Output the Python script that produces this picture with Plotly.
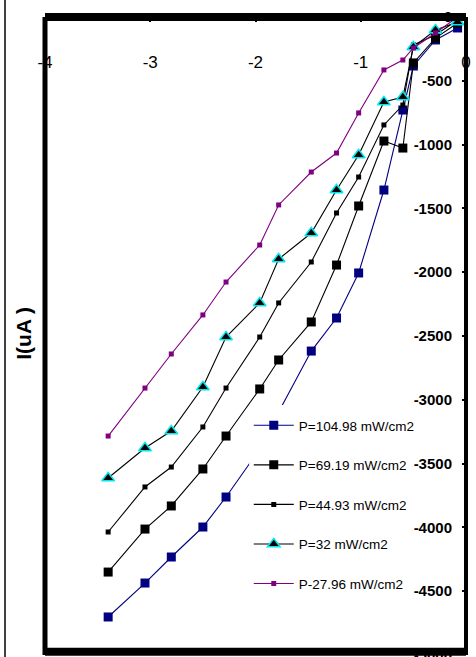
import plotly.graph_objects as go

# Data
voltage = [-3.4, -3.05, -2.8, -2.5, -2.28, -1.96, -1.78, -1.47, -1.23, -1.02, -0.78, -0.6, -0.5, -0.29, -0.08]
series_names = ["P=104.98 mW/cm2", "P=69.19 mW/cm2", "P=44.93 mW/cm2", "P=32 mW/cm2", "P-27.96 mW/cm2"]
i_104 = [-4702, -4436, -4232, -3997, -3762, -3386, -3096, -2618, -2359, -2006, -1356, -729, -384, -180, -86]
i_69 = [-4350, -4013, -3832, -3542, -3284, -2915, -2688, -2390, -1944, -1481, -972, -1027, -360, -165, -47]
i_45 = [-4036, -3683, -3527, -3213, -2908, -2508, -2241, -1920, -1536, -1254, -846, -690, -219, -141, -24]
i_32 = [-3613, -3378, -3245, -2900, -2508, -2241, -1897, -1693, -1356, -1082, -666, -627, -235, -102, -39]
i_28 = [-3284, -2908, -2641, -2335, -2077, -1787, -1473, -1215, -1066, -752, -415, -337, -243, -125, 0]

x_ticks = [-4, -3, -2, -1, 0]
x_ticktext = ["-4", "-3", "-2", "-1", "0"]
y_ticks = [0, -500, -1000, -1500, -2000, -2500, -3000, -3500, -4000, -4500, -5000]
y_ticktext = ["0", "-500", "-1000", "-1500", "-2000", "-2500", "-3000", "-3500", "-4000", "-4500", "-5000"]

FONT = "Liberation Sans, Arial, sans-serif"

styles = [
    dict(line=dict(color="#000080", width=1.1), marker=dict(symbol="square", size=9, color="#000080")),
    dict(line=dict(color="black", width=1.1), marker=dict(symbol="square", size=9, color="black")),
    dict(line=dict(color="black", width=1.1), marker=dict(symbol="square", size=5, color="black")),
    dict(line=dict(color="black", width=1.1), marker=dict(symbol="triangle-up", size=11, color="black",
                                                          line=dict(color="#00e5ee", width=1.5))),
    dict(line=dict(color="#800080", width=1.1), marker=dict(symbol="square", size=5, color="#800080")),
]

fig = go.Figure()
for name, ys, st, g in zip(series_names, [i_104, i_69, i_45, i_32, i_28], styles, range(5)):
    fig.add_trace(go.Scatter(x=voltage, y=ys, mode="lines+markers", name=name,
                             legendgroup=f"g{g}", line=st["line"], marker=st["marker"]))

shapes = [
    # white backing behind the legend's symbol column (legend itself transparent)
    dict(type="rect", xref="paper", yref="paper", x0=0.485, x1=0.65, y0=0.086, y1=0.392,
         fillcolor="white", line=dict(width=0)),
    # frame lines
    dict(type="line", xref="paper", yref="paper", x0=0, x1=1, y0=1, y1=1, line=dict(color="black", width=8)),
    dict(type="line", xref="paper", yref="paper", x0=0, x1=1, y0=0.005, y1=0.005, line=dict(color="black", width=8)),
    dict(type="line", xref="paper", yref="paper", x0=0, x1=0, y0=0, y1=1, line=dict(color="black", width=5)),
    dict(type="line", xref="paper", yref="paper", x0=1, x1=1, y0=0, y1=1, line=dict(color="black", width=4)),
    dict(type="line", xref="paper", yref="paper", x0=-0.095, x1=-0.095, y0=-0.1, y1=1.1,
         line=dict(color="black", width=1.5)),
]
for s in shapes:
    s["layer"] = "above"

fig.update_layout(
    width=476, height=657,
    margin=dict(l=45, r=10, t=17, b=2),
    paper_bgcolor="white", plot_bgcolor="white",
    showlegend=True,
    legend=dict(x=0.484, y=0.384, xanchor="left", yanchor="top", bgcolor="rgba(0,0,0,0)",
                font=dict(family=FONT, size=13.5, color="black"),
                traceorder="grouped", tracegroupgap=19, itemwidth=40),
    shapes=shapes,
    annotations=[dict(text="<b>I(uA )</b>", xref="paper", yref="paper", x=-0.05, y=0.505,
                      xanchor="center", yanchor="middle",
                      textangle=-90, showarrow=False, font=dict(family=FONT, size=21, color="black"))],
    xaxis=dict(range=[-4, 0], side="top", showgrid=False, zeroline=False, showline=False,
               automargin=False,
               tickvals=x_ticks, ticktext=x_ticktext, ticks="inside", ticklen=5, tickwidth=1.5,
               tickcolor="black", ticklabelposition="inside", ticklabeloverflow="allow",
               ticklabelstandoff=35, tickfont=dict(family=FONT, size=17, color="black")),
    yaxis=dict(range=[-5000, 0], side="right", showgrid=False, zeroline=False, showline=False,
               automargin=False,
               tickvals=y_ticks, ticktext=y_ticktext, ticks="inside", ticklen=4, tickwidth=1.5,
               tickcolor="black", ticklabelposition="inside", ticklabeloverflow="allow",
               ticklabelstandoff=10, tickfont=dict(family=FONT, size=15, color="black", weight="bold")),
)

fig.write_html("out.html")
